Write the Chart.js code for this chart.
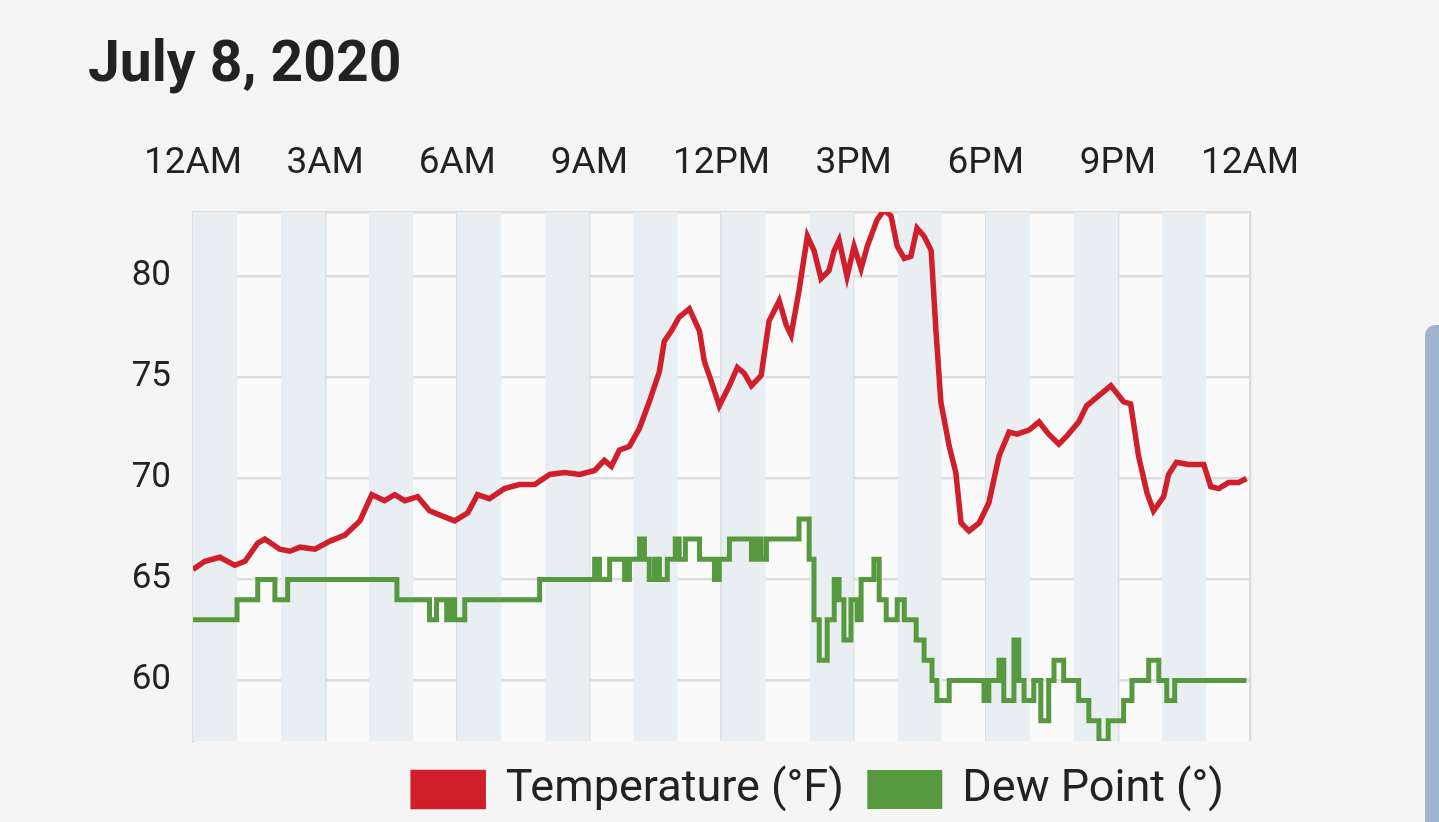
<!DOCTYPE html>
<html lang="en">
<head>
<meta charset="UTF-8">
<title>July 8, 2020</title>
<script src="https://cdn.jsdelivr.net/npm/chart.js"></script>
<style>
    body { margin: 0; background: #f5f5f5; font-family: Roboto, sans-serif; overflow: hidden; }
    h1 { position: absolute; left: 88px; top: 28px; margin: 0; font-size: 57px; font-weight: 700; color: #222; }
    #wrap { position: absolute; left: 0; top: 0; width: 1439px; height: 822px; }
    .scroll { position: absolute; left: 1425px; top: 325px; width: 20px; height: 520px; background: #9fb4cc; border-radius: 10px 0 0 0; }
</style>
</head>
<body>
<h1>July 8, 2020</h1>
<div id="wrap"><canvas id="chart"></canvas></div>
<div class="scroll"></div>
<script>
// hours since midnight
const tempHours = [0,0.27,0.61,0.95,1.18,1.47,1.63,1.97,2.2,2.43,2.77,3.11,3.45,3.79,4.06,4.35,4.58,4.81,5.1,5.37,5.71,5.94,6.24,6.46,6.73,7.07,7.41,7.76,8.1,8.44,8.78,9.12,9.34,9.5,9.68,9.91,10.14,10.36,10.59,10.7,10.86,11.04,11.27,11.5,11.61,11.77,11.95,12.18,12.36,12.52,12.68,12.9,13.08,13.31,13.47,13.58,13.76,13.95,14.1,14.26,14.44,14.56,14.67,14.85,15.01,15.17,15.31,15.53,15.69,15.85,15.99,16.15,16.3,16.44,16.6,16.76,16.87,16.98,17.17,17.32,17.44,17.62,17.85,18.07,18.3,18.53,18.71,18.98,19.21,19.43,19.66,19.84,20.11,20.29,20.57,20.84,21.13,21.29,21.47,21.66,21.81,22.04,22.15,22.33,22.61,22.95,23.11,23.29,23.51,23.74,23.92];
const tempValues = [65.5,65.9,66.1,65.7,65.9,66.8,67.0,66.5,66.4,66.6,66.5,66.9,67.2,67.9,69.2,68.9,69.2,68.9,69.1,68.4,68.1,67.9,68.3,69.2,69.0,69.5,69.7,69.7,70.2,70.3,70.2,70.4,70.9,70.6,71.4,71.6,72.5,73.8,75.3,76.8,77.3,78.0,78.4,77.3,75.8,74.8,73.6,74.6,75.5,75.2,74.6,75.1,77.8,78.8,77.6,77.1,79.3,82.0,81.3,79.9,80.3,81.3,81.8,80.0,81.5,80.4,81.5,82.8,83.3,83.0,81.5,80.9,81.0,82.4,82.0,81.3,77.3,73.8,71.6,70.3,67.8,67.4,67.8,68.8,71.1,72.3,72.2,72.4,72.8,72.2,71.7,72.1,72.8,73.6,74.1,74.6,73.8,73.7,71.1,69.3,68.4,69.1,70.2,70.8,70.7,70.7,69.6,69.5,69.8,69.8,70.0];
const dewHours = [0,1.0,1.47,1.86,2.15,4.63,5.37,5.53,5.76,5.87,5.94,6.17,7.87,9.12,9.23,9.46,9.8,9.91,10.14,10.25,10.36,10.48,10.59,10.77,10.95,11.04,11.18,11.5,11.84,11.95,12.18,12.68,12.79,12.9,13.02,13.76,13.99,14.1,14.22,14.4,14.56,14.67,14.78,14.94,15.08,15.17,15.46,15.58,15.74,15.99,16.15,16.42,16.6,16.78,16.89,17.17,17.96,18.07,18.3,18.41,18.64,18.75,18.87,19.09,19.25,19.43,19.55,19.77,20.11,20.34,20.57,20.78,21.13,21.32,21.7,21.93,22.11,22.29,23.92];
const dewValues = [63,64,65,64,65,64,63,64,63,64,63,64,65,66,65,66,65,66,67,66,65,66,65,66,67,66,67,66,65,66,67,66,67,66,67,68,66,63,61,63,65,64,62,64,63,65,66,64,63,64,63,62,61,60,59,60,59,60,61,59,62,60,59,60,58,60,61,60,59,58,57,58,59,60,61,60,59,60,60];
const hourLabels = ['12AM','3AM','6AM','9AM','12PM','3PM','6PM','9PM','12AM'];

const bands = {
    id: 'bands',
    beforeDatasetsDraw(chart) {
        const { ctx, chartArea: a, scales: { x } } = chart;
        ctx.save();
        ctx.fillStyle = '#e9eef3';
        for (let h = 0; h < 24; h += 2) {
            const x0 = x.getPixelForValue(h), x1 = x.getPixelForValue(h + 1);
            ctx.fillRect(x0, a.top, x1 - x0, a.bottom - a.top);
        }
        ctx.restore();
    },
    beforeDraw(chart) {
        const { ctx, chartArea: a } = chart;
        ctx.save();
        ctx.fillStyle = '#fafafa';
        ctx.fillRect(a.left, a.top, a.right - a.left, a.bottom - a.top);
        ctx.restore();
    }
};

new Chart(document.getElementById('chart'), {
    type: 'line',
    data: {
        datasets: [{
            label: 'Temperature (°F)',
            data: tempHours.map((h, i) => ({ x: h, y: tempValues[i] })),
            borderColor: '#d01f2a', backgroundColor: '#d01f2a',
            borderWidth: 5.5, pointRadius: 0, tension: 0
        }, {
            label: 'Dew Point (°)',
            data: dewHours.map((h, i) => ({ x: h, y: dewValues[i] })),
            borderColor: '#57993f', backgroundColor: '#57993f',
            borderWidth: 5, pointRadius: 0, stepped: true
        }]
    },
    options: {
        responsive: true, maintainAspectRatio: false, animation: false,
        layout: { padding: { top: 120, right: 189, left: 0, bottom: 0 } },
        plugins: {
            tooltip: { enabled: false },
            legend: {
                position: 'bottom', align: 'end',
                labels: { boxWidth: 70, boxHeight: 34, padding: 26, color: '#222', font: { size: 45, family: 'Roboto' } }
            }
        },
        scales: {
            x: {
                type: 'linear', position: 'top', min: 0, max: 24,
                ticks: { stepSize: 3, color: '#222', font: { size: 37, family: 'Roboto' }, padding: 26,
                    callback: v => hourLabels[v / 3] },
                grid: { color: '#dddddd', lineWidth: 2.5, drawTicks: false },
                border: { color: '#dddddd', width: 2.5 },
                afterFit: s => { s.height = 92; }
            },
            y: {
                min: 57, max: 83.2,
                afterBuildTicks: s => { s.ticks = s.ticks.filter(t => t.value % 5 === 0); },
                ticks: { stepSize: 5, color: '#222', font: { size: 35, family: 'Roboto' }, padding: 22 },
                grid: { color: '#dddddd', lineWidth: 2.5, drawTicks: false },
                border: { color: '#dddddd', width: 2.5 },
                afterFit: s => { s.width = 193; }
            }
        }
    },
    plugins: [bands]
});
</script>
</body>
</html>
